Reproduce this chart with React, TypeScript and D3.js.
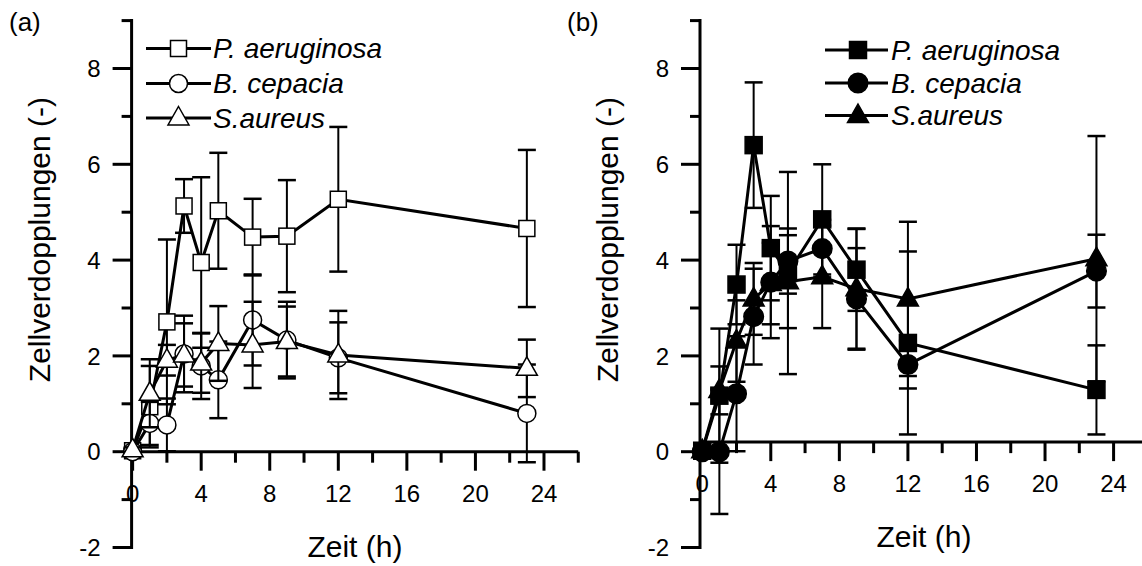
import React from 'react';
import * as d3 from 'd3';

// ---- data ----
const times = [0, 1, 2, 3, 4, 5, 7, 9, 12, 23];
const seriesNames = ['P. aeruginosa', 'B. cepacia', 'S.aureus'];
const seriesShapes = ['square', 'circle', 'triangle'];

// panel (a)
const aPaeruginosa = [0.02, 0.94, 2.71, 5.13, 3.95, 5.03, 4.48, 4.5, 5.27, 4.66];
const aPaeruginosaErr = [0.05, 0.85, 1.72, 0.56, 1.78, 1.21, 0.8, 1.17, 1.51, 1.64];
const aCepacia = [0.0, 0.59, 0.56, 2.04, 1.79, 1.5, 2.75, 2.33, 1.96, 0.8];
const aCepaciaErr = [0.05, 0.45, 0.55, 0.8, 0.69, 0.8, 0.95, 0.8, 0.74, 1.02];
const aAureus = [0.04, 1.22, 1.91, 2.02, 1.85, 2.26, 2.23, 2.3, 2.02, 1.74];
const aAureusErr = [0.05, 0.71, 0.32, 0.66, 0.62, 0.78, 0.9, 0.73, 0.92, 0.6];

// panel (b)
const bPaeruginosa = [0.02, 1.17, 3.49, 6.4, 4.25, 3.73, 4.85, 3.8, 2.27, 1.29];
const bPaeruginosaErr = [0.05, 1.4, 0.83, 1.31, 1.09, 2.11, 1.15, 0.86, 1.91, 0.93];
const bCepacia = [0.0, 0.0, 1.21, 2.82, 3.54, 3.98, 4.24, 3.19, 1.82, 3.77];
const bCepaciaErr = [0.05, 1.3, 1.2, 1.0, 1.17, 0.68, 0.6, 1.06, 0.5, 0.76];
const bAureus = [0.02, 1.28, 2.31, 3.19, 3.51, 3.55, 3.65, 3.4, 3.19, 4.03];
const bAureusErr = [0.05, 0.5, 0.85, 0.75, 0.85, 0.97, 1.07, 1.25, 1.61, 2.56];

const yTickValues = [-2, -1, 0, 1, 2, 3, 4, 5, 6, 7, 8, 9];
const yLabelValues = [-2, 0, 2, 4, 6, 8];
const xTickValues = [0, 2, 4, 6, 8, 10, 12, 14, 16, 18, 20, 22, 24, 26];
const xLabelValues = [0, 4, 8, 12, 16, 20, 24];

const xTitle = 'Zeit (h)';
const yTitle = 'Zellverdopplungen (-)';

const FONT = '"Liberation Sans", Arial, Helvetica, sans-serif';

type Series = { name: string; shape: string; values: number[]; errs: number[] };

function Marker({ shape, cx, cy, filled }: { shape: string; cx: number; cy: number; filled: boolean }) {
  const fill = filled ? '#000' : '#fff';
  const sw = 1.5;
  if (shape === 'square') {
    const s = filled ? 17 : 16;
    return <rect x={cx - s / 2} y={cy - s / 2} width={s} height={s} fill={fill} stroke="#000" strokeWidth={sw} />;
  }
  if (shape === 'circle') {
    return <circle cx={cx} cy={cy} r={filled ? 9.8 : 9} fill={fill} stroke="#000" strokeWidth={sw} />;
  }
  const pts = [
    [cx, cy - 11.5],
    [cx + 10.5, cy + 7],
    [cx - 10.5, cy + 7],
  ]
    .map((p) => p.join(','))
    .join(' ');
  return <polygon points={pts} fill={fill} stroke="#000" strokeWidth={sw} strokeLinejoin="miter" />;
}

function Panel({
  series,
  filled,
  axisX,
  xMin,
  xAxisAt,
  label,
  labelX,
  legendLine,
  legendMarkerX,
  legendTextX,
  legendRows,
}: {
  series: Series[];
  filled: boolean;
  axisX: number;
  xMin: number;
  xAxisAt: number;
  label: string;
  labelX: number;
  legendLine: [number, number];
  legendMarkerX: number;
  legendTextX: number;
  legendRows: number[];
}) {
  const pxPerUnit = 17.14;
  const x = d3.scaleLinear().domain([xMin, 26]).range([axisX, axisX + (26 - xMin) * pxPerUnit]);
  const y = d3.scaleLinear().domain([-2, 9]).range([547.5, 20.6]);
  const xAxisY = y(xAxisAt);
  const line = d3
    .line<number>()
    .x((_, i) => x(times[i]))
    .y((d) => y(d));
  const capW = 9;
  const xEnd = x(26);

  return (
    <g>
      <text x={labelX} y={31} fontSize={26} fontFamily={FONT}>
        {label}
      </text>
      {/* y axis */}
      <line x1={axisX} x2={axisX} y1={y(-2) + 1.5} y2={y(9) - 1.5} stroke="#000" strokeWidth={3} />
      {yTickValues.map((v) => {
        const major = v % 2 === 0;
        return (
          <line
            key={'yt' + v}
            x1={axisX - (major ? 19 : 10)}
            x2={axisX}
            y1={y(v)}
            y2={y(v)}
            stroke="#000"
            strokeWidth={3}
          />
        );
      })}
      {yLabelValues.map((v) => (
        <text
          key={'yl' + v}
          x={axisX - 31}
          y={y(v)}
          dy="0.36em"
          textAnchor="end"
          fontSize={24}
          fontFamily={FONT}
        >
          {v}
        </text>
      ))}
      <text
        transform={`translate(${axisX - 82},97) rotate(-90)`}
        textAnchor="end"
        fontSize={30}
        fontFamily={FONT}
      >
        {yTitle}
      </text>
      {/* x axis */}
      <line x1={axisX} x2={xEnd} y1={xAxisY} y2={xAxisY} stroke="#000" strokeWidth={3} />
      {xTickValues.map((v) => {
        const major = v % 4 === 0;
        return (
          <line
            key={'xt' + v}
            x1={x(v)}
            x2={x(v)}
            y1={xAxisY}
            y2={xAxisY + (major ? 19 : 11)}
            stroke="#000"
            strokeWidth={3}
          />
        );
      })}
      {xLabelValues.map((v) => (
        <text key={'xl' + v} x={x(v)} y={xAxisY + 50} textAnchor="middle" fontSize={24} fontFamily={FONT}>
          {v}
        </text>
      ))}
      <text x={(axisX + xEnd) / 2} y={xAxisY + 105} textAnchor="middle" fontSize={30} fontFamily={FONT}>
        {xTitle}
      </text>
      {/* series */}
      {series.map((s) => (
        <g key={s.name}>
          {s.values.map((v, i) => {
            const cx = x(times[i]);
            const top = y(v + s.errs[i]);
            const bot = y(v - s.errs[i]);
            return (
              <g key={'e' + i} stroke="#000" strokeWidth={2}>
                <line x1={cx} x2={cx} y1={top} y2={bot} />
                <line x1={cx - capW} x2={cx + capW} y1={top} y2={top} strokeWidth={2.5} />
                <line x1={cx - capW} x2={cx + capW} y1={bot} y2={bot} strokeWidth={2.5} />
              </g>
            );
          })}
          <path d={line(s.values) || ''} fill="none" stroke="#000" strokeWidth={3} />
          {s.values.map((v, i) => (
            <Marker key={'m' + i} shape={s.shape} cx={x(times[i])} cy={y(v)} filled={filled} />
          ))}
        </g>
      ))}
      {/* legend */}
      {series.map((s, i) => (
        <g key={'lg' + i}>
          <line
            x1={legendLine[0]}
            x2={legendLine[1]}
            y1={legendRows[i]}
            y2={legendRows[i]}
            stroke="#000"
            strokeWidth={3}
          />
          <Marker shape={s.shape} cx={legendMarkerX} cy={legendRows[i]} filled={filled} />
          <text
            x={legendTextX}
            y={legendRows[i]}
            dy="0.35em"
            fontSize={28}
            fontStyle="italic"
            fontFamily={FONT}
          >
            {s.name}
          </text>
        </g>
      ))}
    </g>
  );
}

export default function App() {
  const seriesA: Series[] = [
    { name: seriesNames[0], shape: seriesShapes[0], values: aPaeruginosa, errs: aPaeruginosaErr },
    { name: seriesNames[1], shape: seriesShapes[1], values: aCepacia, errs: aCepaciaErr },
    { name: seriesNames[2], shape: seriesShapes[2], values: aAureus, errs: aAureusErr },
  ];
  const seriesB: Series[] = [
    { name: seriesNames[0], shape: seriesShapes[0], values: bPaeruginosa, errs: bPaeruginosaErr },
    { name: seriesNames[1], shape: seriesShapes[1], values: bCepacia, errs: bCepaciaErr },
    { name: seriesNames[2], shape: seriesShapes[2], values: bAureus, errs: bAureusErr },
  ];
  return (
    <svg
      width={1142}
      height={566}
      viewBox="0 0 1142 566"
      style={{ position: 'absolute', left: 0, top: 0, background: '#fff' }}
    >
      <rect width={1142} height={566} fill="#fff" />
      <Panel
        series={seriesA}
        filled={false}
        axisX={131.6}
        xMin={-0.06}
        xAxisAt={0}
        label="(a)"
        labelX={9}
        legendLine={[146, 211]}
        legendMarkerX={178.5}
        legendTextX={213}
        legendRows={[48.5, 83.5, 118]}
      />
      <Panel
        series={seriesB}
        filled={true}
        axisX={700}
        xMin={-0.13}
        xAxisAt={0.2}
        label="(b)"
        labelX={567}
        legendLine={[825, 888]}
        legendMarkerX={858}
        legendTextX={891}
        legendRows={[50, 83, 115.5]}
      />
    </svg>
  );
}
